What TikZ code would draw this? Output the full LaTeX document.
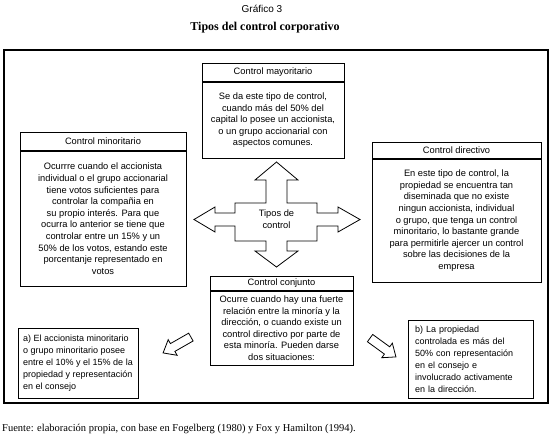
\documentclass[tikz,border=0pt]{standalone}
\usepackage{fontspec}
\setmainfont{Liberation Serif}
\setsansfont{Liberation Sans}
\usetikzlibrary{positioning}

\begin{document}
\begin{tikzpicture}[x=1pt, y=-1pt,
  boxhead/.style={draw, line width=0.8pt, inner sep=0pt, font=\sffamily\fontsize{9.3}{11}\selectfont},
  boxbody/.style={draw, line width=0.8pt, inner sep=0pt, align=center, font=\sffamily\fontsize{9.3}{11.6}\selectfont},
  notebox/.style={draw, line width=0.8pt, inner xsep=4pt, inner ysep=0pt, align=left, font=\sffamily\fontsize{9}{12}\selectfont},
  hollowarrow/.style={draw, line width=0.8pt},
  frameline/.style={draw, line width=1.6pt}
]
\useasboundingbox (0,0) rectangle (556,440);

% Titles
\node[font=\sffamily\fontsize{10}{12}\selectfont] (grafico) at (262,9) {Gráfico 3};
\node[font=\bfseries\fontsize{12}{14}\selectfont] (titulo) at (265,28) {Tipos del control corporativo};

% Frame
\draw[frameline] (4,50) rectangle (548,403);

% Control mayoritario
\node[boxhead, minimum width=142pt, minimum height=18pt, anchor=north] (mayhead) at (273,63) {Control mayoritario};
\node[boxbody, minimum width=142pt, minimum height=76pt, below=0pt of mayhead] (maybody) {Se da este tipo de control,\\cuando más del 50\% del\\capital lo posee un accionista,\\o un grupo accionarial con\\aspectos comunes.};

% Control minoritario
\node[boxhead, minimum width=166pt, minimum height=18pt, anchor=north] (minhead) at (103,132) {Control minoritario};
\node[boxbody, minimum width=166pt, minimum height=135pt, below=0pt of minhead] (minbody) {Ocurrre cuando el accionista\\individual o el grupo accionarial\\tiene votos suficientes para\\controlar la compañia en\\su propio interés. Para que\\ocurra lo anterior se tiene que\\controlar entre un 15\% y un\\50\% de los votos, estando este\\porcentanje representado en\\votos};

% Control directivo
\node[boxhead, minimum width=169pt, minimum height=16pt, anchor=north] (dirhead) at (456.5,142) {Control directivo};
\node[boxbody, minimum width=169pt, minimum height=123pt, below=0pt of dirhead] (dirbody) {En este tipo de control, la\\propiedad se encuentra tan\\diseminada que no existe\\ningun accionista, individual\\o grupo, que tenga un control\\minoritario, lo bastante grande\\para permitirle ajercer un control\\sobre las decisiones de la\\empresa};

% Control conjunto
\node[boxhead, minimum width=143pt, minimum height=14pt, anchor=north] (conhead) at (281.5,276) {Control conjunto};
\node[boxbody, minimum width=143pt, minimum height=74pt, below=0pt of conhead] (conbody) {Ocurre cuando hay una fuerte\\relación entre la minoría y la\\dirección, o cuando existe un\\control directivo por parte de\\esta minoría. Pueden darse\\dos situaciones:};

% Cross arrow
\draw[line width=0.8pt] (194,219.5) -- (215,207) -- (215,213) -- (235,213) -- (235,203)
  -- (266,203) -- (266,180) -- (255,180) -- (276.5,162) -- (298,180) -- (287,180)
  -- (287,203) -- (317,203) -- (317,213) -- (338,213) -- (338,207) -- (360,219.5)
  -- (338,232) -- (338,226) -- (317,226) -- (317,241) -- (287,241) -- (287,251)
  -- (298,251) -- (276.5,267) -- (255,251) -- (266,251) -- (266,241) -- (235,241)
  -- (235,226) -- (215,226) -- (215,232) -- cycle;
\node[font=\sffamily\fontsize{9.3}{12}\selectfont, align=center] (tipos) at (276.5,219.5) {Tipos de\\control};

% Situations
\node[notebox, minimum width=120pt, minimum height=70pt] (sita) at (78,363) {a) El accionista minoritario\\o grupo minoritario posee\\entre el 10\% y el 15\% de la\\propiedad y representación\\en el consejo};
\node[notebox, inner xsep=7pt, text width=111pt, minimum height=78pt] (sitb) at (470.5,359) {b) La propiedad\\controlada es más del\\50\% con representación\\en el consejo e\\involucrado activamente\\en la dirección.};

% Hollow arrows
\draw[hollowarrow, shift={(177,345)}, rotate=209.7] (-16,-4.5) -- (5,-4.5) -- (5,-9) -- (16,0) -- (5,9) -- (5,4.5) -- (-16,4.5) -- cycle;
\draw[hollowarrow, shift={(383,347.5)}, rotate=-36] (-16,-4.5) -- (5,-4.5) -- (5,-9) -- (16,0) -- (5,9) -- (5,4.5) -- (-16,4.5) -- cycle;

% Source
\node[anchor=base west, inner sep=0pt, font=\fontsize{10.5}{12}\selectfont] (fuente) at (2,431) {Fuente: elaboración propia, con base en Fogelberg (1980) y Fox y Hamilton (1994).};
\end{tikzpicture}
\end{document}
